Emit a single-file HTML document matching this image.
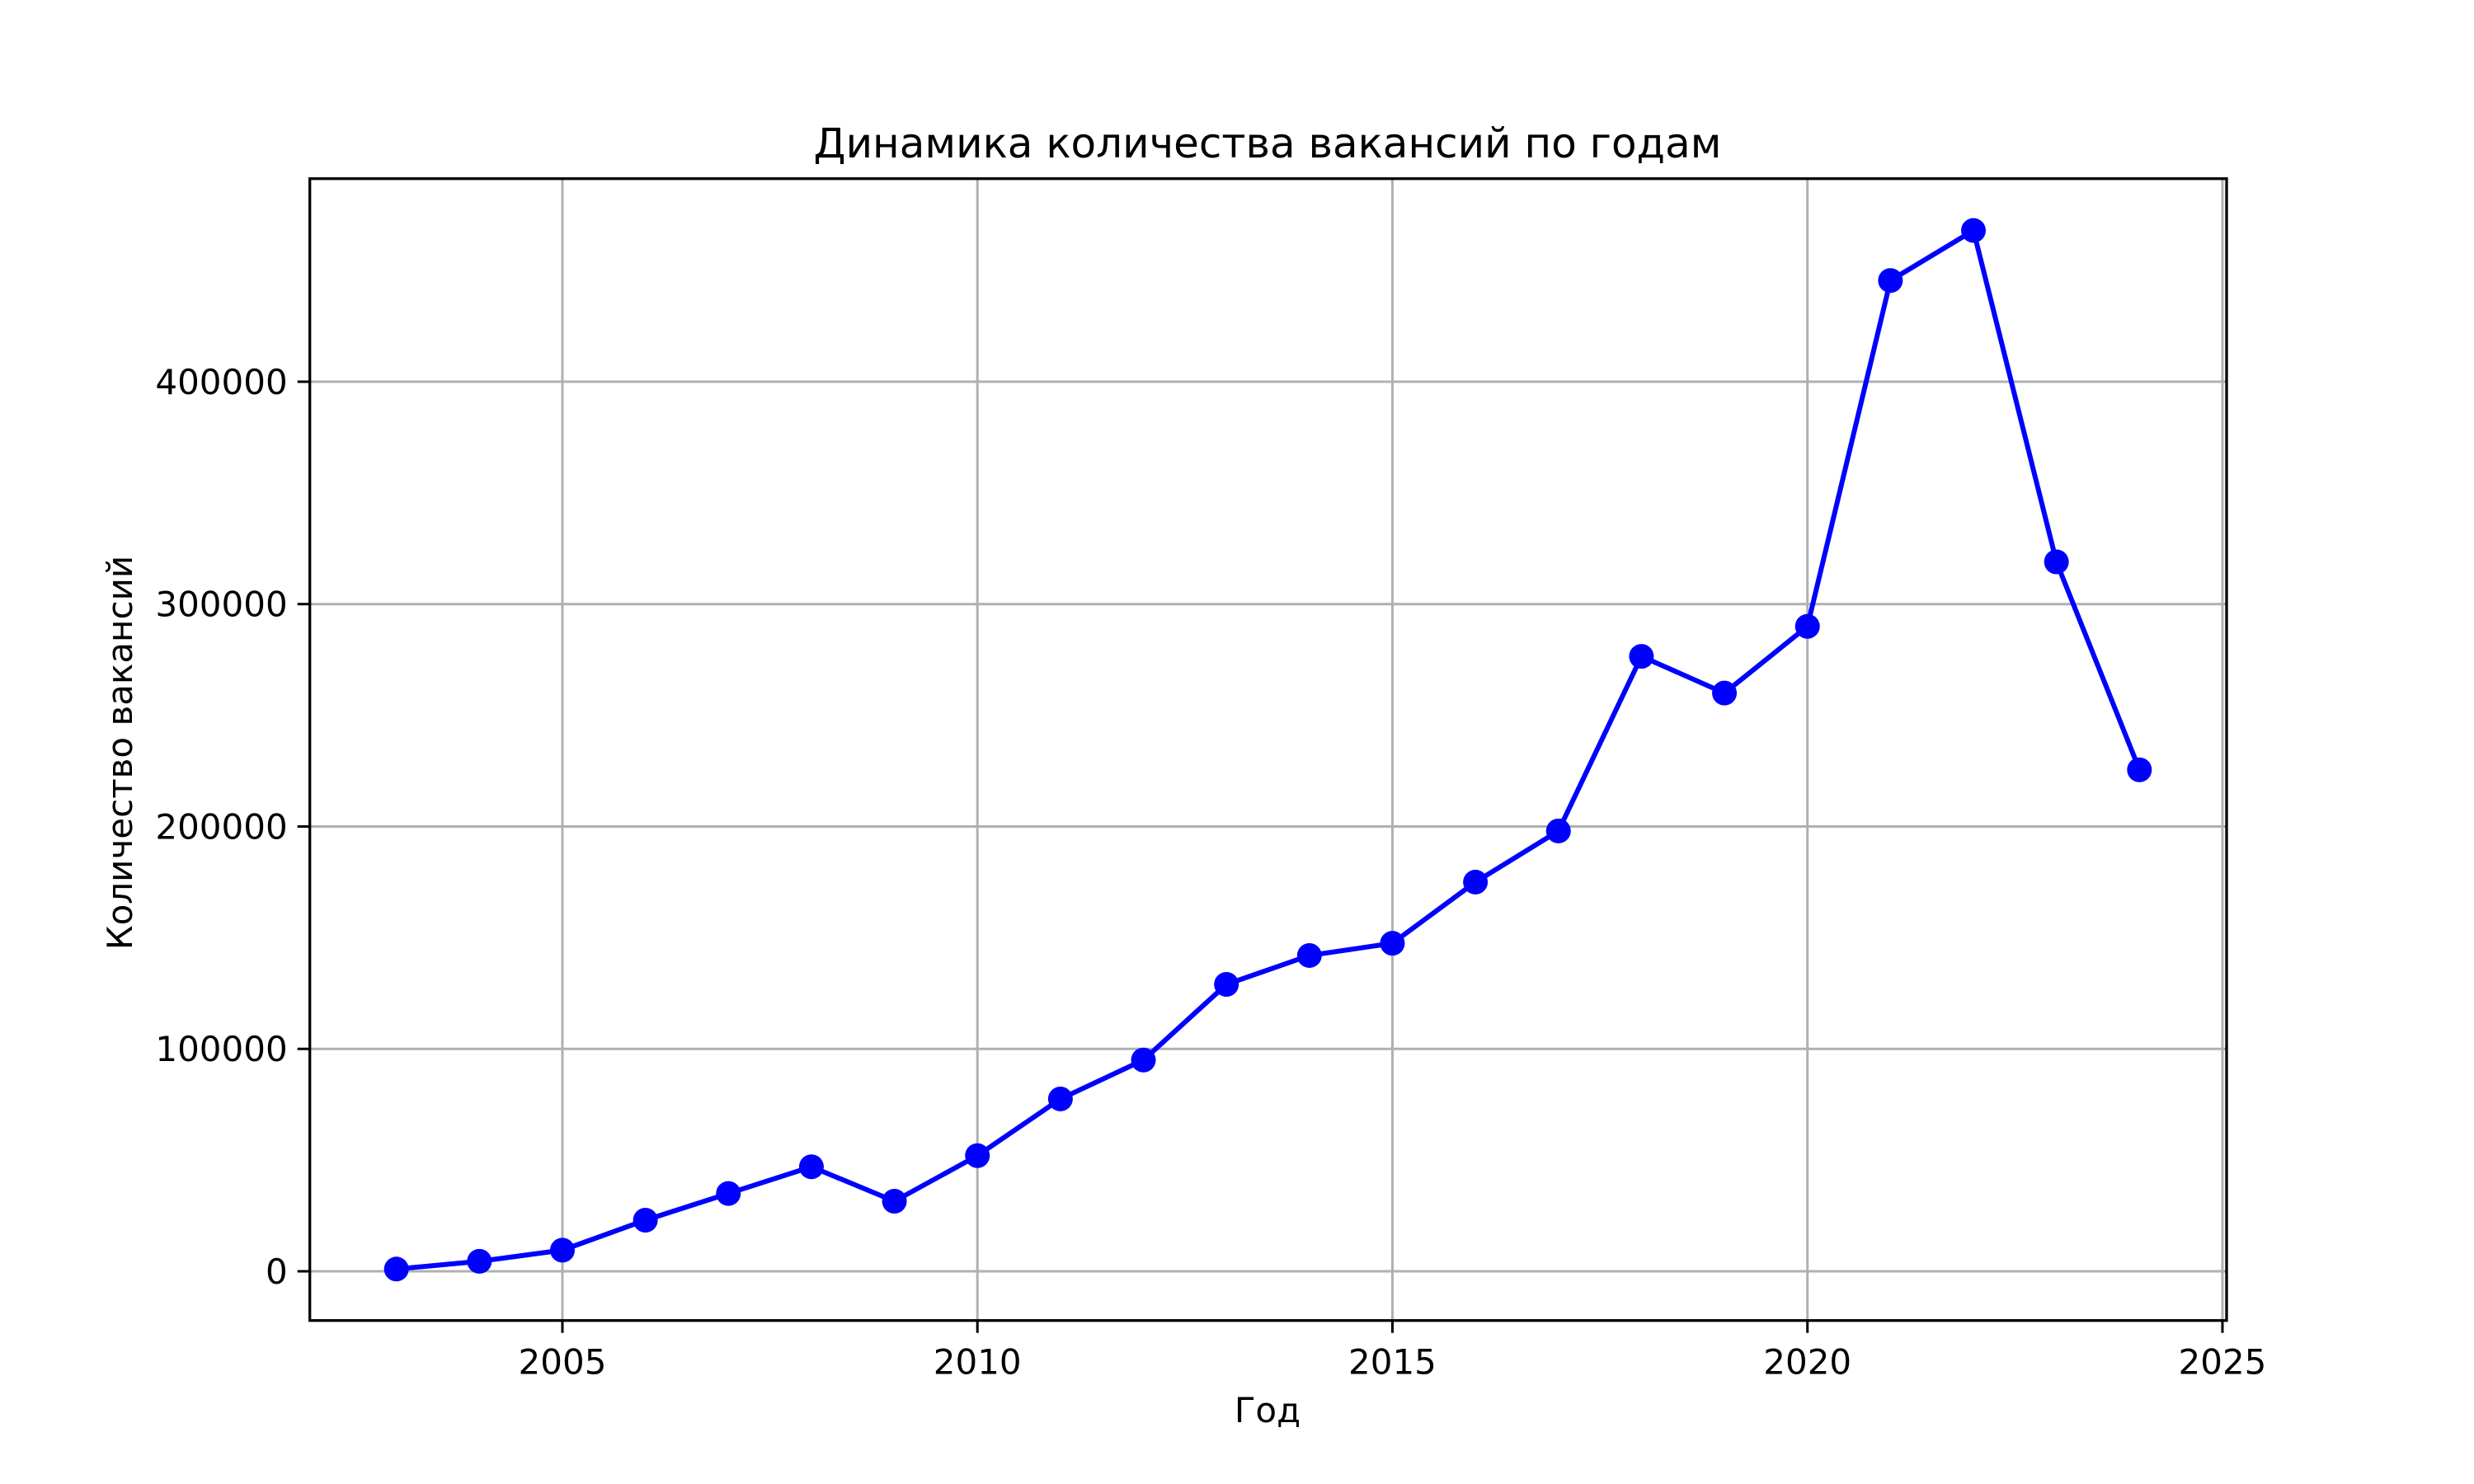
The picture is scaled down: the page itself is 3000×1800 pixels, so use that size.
<!DOCTYPE html>
<html><head><meta charset="utf-8"><style>
html,body{margin:0;padding:0;background:#fff;}
svg{display:block;font-family:"DejaVu Sans","Liberation Sans",sans-serif;}
</style></head><body>
<svg id="chart" width="3000" height="1800" viewBox="0 0 3000 1800" xmlns="http://www.w3.org/2000/svg">
<rect width="3000" height="1800" fill="#fff"/>
<g id="grid"></g>
<g id="ticks"></g>
<g id="series"></g>
<rect x="375.7" y="216.7" width="2324.3" height="1385" fill="none" stroke="#000" stroke-width="3.3"/>
<text x="1537" y="191" font-size="50" text-anchor="middle">Динамика количества вакансий по годам</text>
<text x="1537" y="1725" font-size="42" text-anchor="middle">Год</text>
<text x="160" y="913" font-size="42" text-anchor="middle" transform="rotate(-90 160 913)">Количество вакансий</text>
</svg>
<script>
const years=[2003,2004,2005,2006,2007,2008,2009,2010,2011,2012,2013,2014,2015,2016,2017,2018,2019,2020,2021,2022,2023,2024];
const vacancies=[1000,4500,9500,23000,35000,47000,31500,52000,77500,95000,129000,142000,147500,175000,198000,276500,260000,290000,445500,468000,319000,225500];
const xTicks=[2005,2010,2015,2020,2025];
const yTicks=[0,100000,200000,300000,400000];
const L=375.7,R=2700,T=216.7,B=1601.7;
const xMin=2001.957,xMax=2025.05,yMin=-22130,yMax=491300;
const sx=v=>L+(v-xMin)/(xMax-xMin)*(R-L);
const sy=v=>B-(v-yMin)/(yMax-yMin)*(B-T);
const NS='http://www.w3.org/2000/svg';
function mk(tag,attrs,parent){const e=document.createElementNS(NS,tag);for(const k in attrs)e.setAttribute(k,attrs[k]);parent.appendChild(e);return e;}
const grid=document.getElementById('grid'),ticks=document.getElementById('ticks'),series=document.getElementById('series');
xTicks.forEach(t=>{const x=sx(t);
 const g=mk('line',{x1:x,x2:x,y1:T,y2:B,stroke:'#b0b0b0','stroke-width':3},grid);
 
 
 const tk=mk('line',{x1:x,x2:x,y1:B,y2:B+15,stroke:'#000','stroke-width':3},ticks);
 
 
 const lb=mk('text',{x:x,y:B+65,'font-size':42,'text-anchor':'middle'},ticks);lb.textContent=t;
 
 
});
yTicks.forEach(t=>{const y=sy(t);
 const g=mk('line',{x1:L,x2:R,y1:y,y2:y,stroke:'#b0b0b0','stroke-width':3},grid);
 
 
 const tk=mk('line',{x1:L-15,x2:L,y1:y,y2:y,stroke:'#000','stroke-width':3},ticks);
 
 
 const lb=mk('text',{x:L-27,y:y+15,'font-size':42,'text-anchor':'end'},ticks);lb.textContent=t;
 
 
});
const pts=years.map((y,i)=>sx(y)+','+sy(vacancies[i])).join(' ');
const pl=mk('polyline',{points:pts,fill:'none',stroke:'#0000ff','stroke-width':6,'stroke-linejoin':'round'},series);


years.forEach((y,i)=>{
 const c=mk('circle',{cx:sx(y),cy:sy(vacancies[i]),r:15,fill:'#0000ff'},series);
 
 
});
</script>
</body></html>
